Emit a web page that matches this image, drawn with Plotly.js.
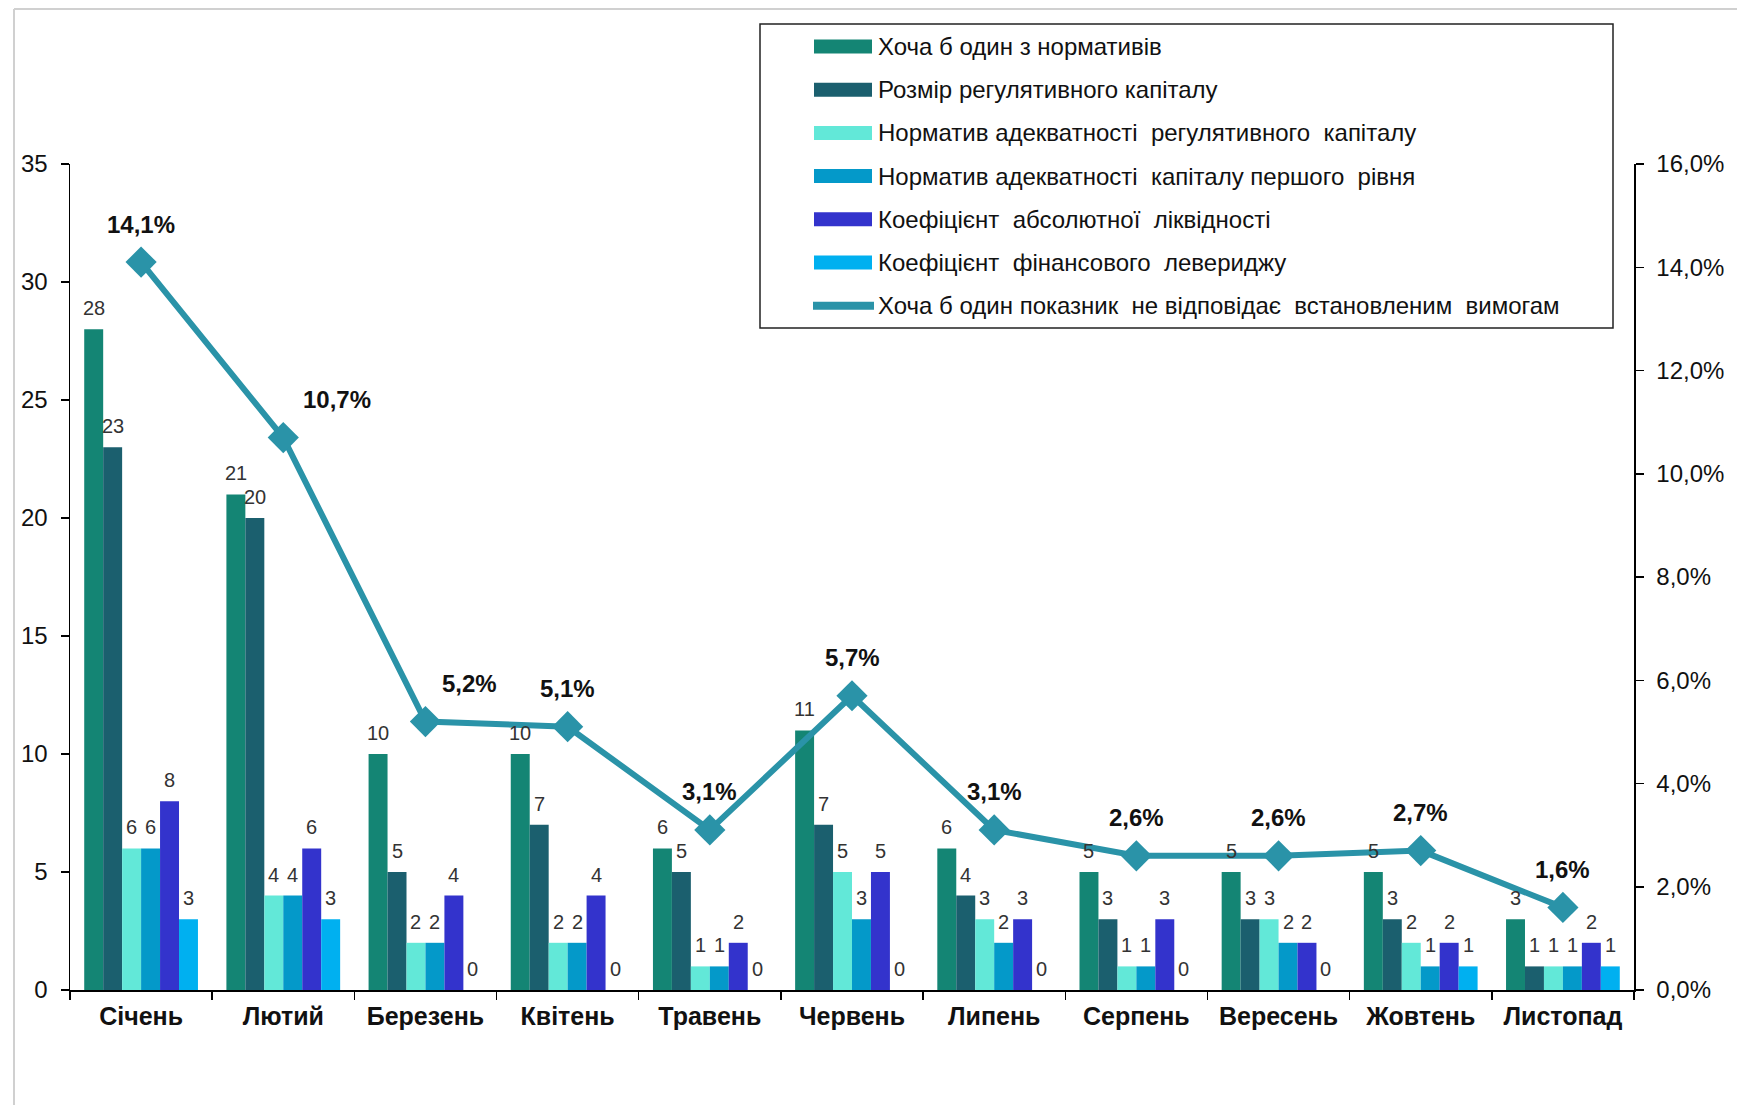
<!DOCTYPE html>
<html>
<head>
<meta charset="utf-8">
<script src="https://cdn.plot.ly/plotly-3.0.1.min.js"></script>
<style>html,body{margin:0;padding:0;background:#fff;}#chart{width:1737px;height:1105px;}</style>
</head>
<body>
<div id="chart"></div>
<script>
// ---- data ----
const months = ["Січень","Лютий","Березень","Квітень","Травень","Червень","Липень","Серпень","Вересень","Жовтень","Листопад"];
const seriesNames = [
  "Хоча б один з нормативів",
  "Розмір регулятивного капіталу",
  "Норматив адекватності  регулятивного  капіталу",
  "Норматив адекватності  капіталу першого  рівня",
  "Коефіцієнт  абсолютної  ліквідності",
  "Коефіцієнт  фінансового  левериджу"
];
const lineName = "Хоча б один показник  не відповідає  встановленим  вимогам";
const atLeastOne      = [28,21,10,10,6,11,6,5,5,5,3];
const regCapital      = [23,20,5,7,5,7,4,3,3,3,1];
const regCapAdequacy  = [6,4,2,2,1,5,3,1,3,2,1];
const tier1Adequacy   = [6,4,2,2,1,3,2,1,2,1,1];
const absLiquidity    = [8,6,4,4,2,5,3,3,2,2,2];
const finLeverage     = [3,3,0,0,0,0,0,0,0,1,1];
const pctNonCompliant = [14.1,10.7,5.2,5.1,3.1,5.7,3.1,2.6,2.6,2.7,1.6];

// ---- styles ----
const barColors = ["#148574","#1b5f6e","#62e8d8","#0499c9","#3333cc","#00b0f0"];
const lineColor = "#2a93a8";
const labelXShift = [0,54,44,0,0,0,0,0,0,0,0];
const FONT = "Liberation Sans, Arial, sans-serif";
const BARGAP = 0.2;

const W = 1737, H = 1105;
const M = {l:70, r:103, t:164, b:115};
const plotW = W - M.l - M.r, plotH = H - M.t - M.b;
const px = v => (v - M.l) / plotW;
const py = v => (H - M.b - v) / plotH;

const seriesData = [atLeastOne, regCapital, regCapAdequacy, tier1Adequacy, absLiquidity, finLeverage];
const nS = seriesData.length;
const traces = seriesData.map((vals, i) => ({
  type: "bar",
  name: seriesNames[i],
  x: months,
  y: vals,
  yaxis: "y",
  marker: {color: barColors[i], line: {width: 0}},
  hoverinfo: "y"
}));
traces.push({
  type: "scatter",
  mode: "lines+markers",
  name: lineName,
  x: months,
  y: pctNonCompliant,
  yaxis: "y2",
  line: {color: lineColor, width: 6},
  marker: {symbol: "diamond", size: 24, color: lineColor},
  cliponaxis: false
});

const annotations = [];
// bar value labels, placed at each bar's slot within its group
seriesData.forEach((vals, i) => {
  const slot = (1 - BARGAP) / nS;
  const off = -(1 - BARGAP) / 2 + (i + 0.5) * slot;
  vals.forEach((v, j) => {
    annotations.push({
      x: j + off, y: v, xref: "x", yref: "y",
      text: String(v), showarrow: false,
      yanchor: "bottom", yshift: 8,
      font: {family: FONT, size: 20, color: "#333"}
    });
  });
});

const fmtPct = v => v.toFixed(1).replace(".", ",") + "%";
pctNonCompliant.forEach((v, i) => annotations.push({
  x: months[i], y: v, xref: "x", yref: "y2",
  text: fmtPct(v), showarrow: false,
  yshift: 38, xshift: labelXShift[i],
  font: {family: FONT, size: 24, color: "#111", weight: "bold"}
}));

// manual legend (box, swatches, texts)
const shapes = [];
shapes.push({type:"line", xref:"paper", yref:"paper", x0:px(14), x1:px(W), y0:py(9), y1:py(9), line:{color:"#d0d0d0", width:2}});
shapes.push({type:"line", xref:"paper", yref:"paper", x0:px(14), x1:px(14), y0:py(9), y1:py(H), line:{color:"#d0d0d0", width:2}});
shapes.push({type:"rect", xref:"paper", yref:"paper", x0:px(760), x1:px(1613), y0:py(24), y1:py(328), line:{color:"#222", width:1.5}, fillcolor:"rgba(0,0,0,0)"});
const rowY0 = 46.5, rowStep = 43.2;
const legendItems = seriesNames.concat([lineName]);
legendItems.forEach((name, i) => {
  const cy = rowY0 + i * rowStep;
  if (i < barColors.length) {
    shapes.push({type:"rect", xref:"paper", yref:"paper", x0:px(814), x1:px(872), y0:py(cy+7), y1:py(cy-7), line:{width:0}, fillcolor:barColors[i]});
  } else {
    shapes.push({type:"line", xref:"paper", yref:"paper", x0:px(813), x1:px(874), y0:py(cy), y1:py(cy), line:{color:lineColor, width:8}});
  }
  annotations.push({
    xref:"paper", yref:"paper", x:px(876), y:py(cy), xanchor:"left", yanchor:"middle",
    text: name, showarrow:false,
    font:{family:FONT, size:24, color:"#111"}
  });
});

const layout = {
  width: W, height: H,
  margin: M,
  paper_bgcolor: "#fff", plot_bgcolor: "#fff",
  barmode: "group", bargap: BARGAP, bargroupgap: 0,
  showlegend: false,
  separators: ", ",
  font: {family: FONT, color: "#000"},
  xaxis: {
    type: "category", range: [-0.5, 10.5],
    showline: true, linecolor: "#000", linewidth: 1.5,
    ticks: "outside", tickson: "boundaries", ticklen: 8, tickcolor: "#000", tickwidth: 1.5,
    ticklabelstandoff: 3,
    tickfont: {size: 25, color: "#111", weight: "bold"},
    showgrid: false, zeroline: false, fixedrange: true
  },
  yaxis: {
    range: [0, 35], dtick: 5, tick0: 0,
    showline: true, linecolor: "#000", linewidth: 1.5,
    ticks: "outside", ticklen: 8, tickcolor: "#000", tickwidth: 1.5,
    ticklabelstandoff: 8,
    tickfont: {size: 24, color: "#111"},
    showgrid: false, zeroline: false
  },
  yaxis2: {
    overlaying: "y", side: "right",
    range: [0, 16], dtick: 2, tick0: 0,
    tickformat: ".1f", ticksuffix: "%",
    showline: true, linecolor: "#000", linewidth: 1.5,
    ticks: "outside", ticklen: 8, tickcolor: "#000", tickwidth: 1.5,
    ticklabelstandoff: 8,
    tickfont: {size: 24, color: "#111"},
    showgrid: false, zeroline: false
  },
  annotations: annotations,
  shapes: shapes
};

Plotly.newPlot("chart", traces, layout, {displayModeBar: false, staticPlot: true});
</script>
</body>
</html>
